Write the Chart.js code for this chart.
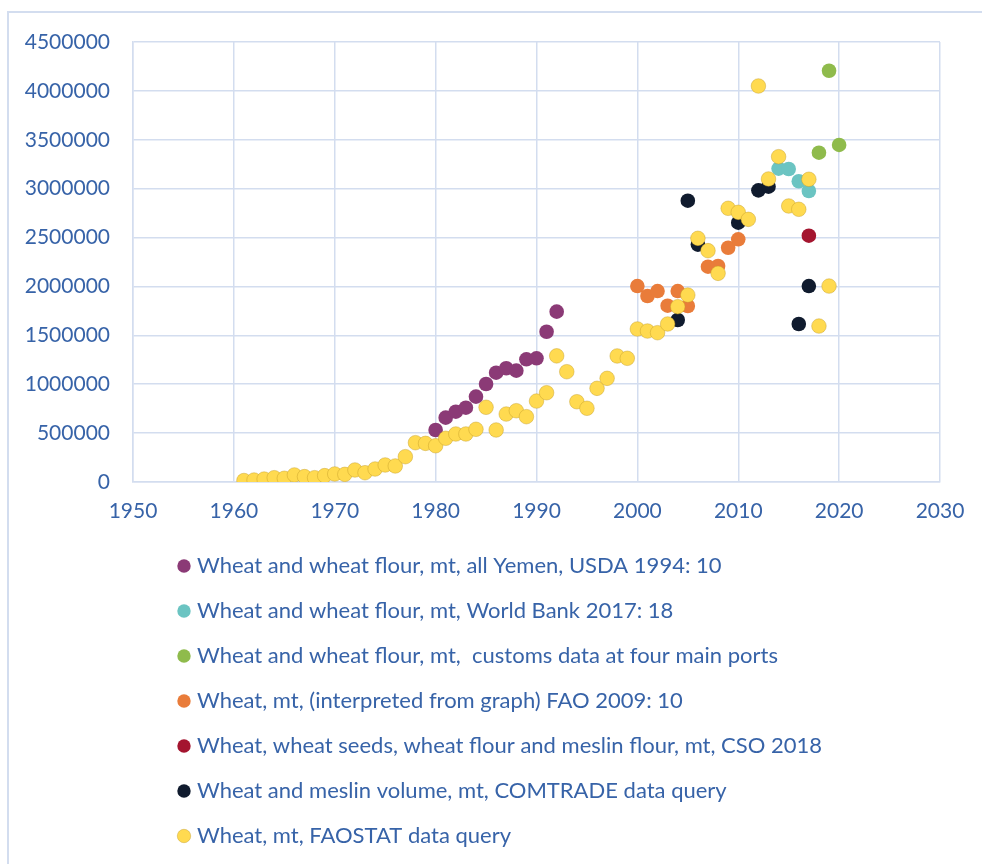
<!DOCTYPE html>
<html>
<head>
<meta charset="utf-8">
<script src="https://cdn.jsdelivr.net/npm/chart.js@4.4.1/dist/chart.umd.min.js"></script>
<style>
html,body{margin:0;padding:0;width:982px;height:864px;overflow:hidden;background:#ffffff;}
#frame{position:absolute;left:7px;top:11px;width:1400px;height:1400px;border-left:2px solid #D3DDEF;border-top:2px solid #D3DDEF;box-sizing:border-box;}
#wrap{position:absolute;left:0;top:0;width:982px;height:864px;}
</style>
</head>
<body>
<div id="frame"></div>
<div id="wrap"><canvas id="c" width="982" height="864"></canvas></div>
<script>
// ---------- data ----------
const purpleLabel = 'Wheat and wheat flour, mt, all Yemen, USDA 1994: 10';
const purpleYears = [1980,1981,1982,1983,1984,1985,1986,1987,1988,1989,1990,1991,1992];
const purpleValues = [532000,658000,719000,760000,873000,1002000,1118000,1163000,1139000,1255000,1265000,1537000,1742000];

const tealLabel = 'Wheat and wheat flour, mt, World Bank 2017: 18';
const tealYears = [2014,2015,2016,2017];
const tealValues = [3205000,3201000,3076000,2976000];

const greenLabel = 'Wheat and wheat flour, mt,  customs data at four main ports';
const greenYears = [2018,2019,2020];
const greenValues = [3368000,4206000,3447000];

const orangeLabel = 'Wheat, mt, (interpreted from graph) FAO 2009: 10';
const orangeYears = [2000,2001,2002,2003,2004,2005,2007,2008,2009,2010];
const orangeValues = [2004000,1902000,1953000,1803000,1953000,1800000,2202000,2209000,2396000,2482000];

const redLabel = 'Wheat, wheat seeds, wheat flour and meslin flour, mt, CSO 2018';
const redYears = [2017];
const redValues = [2519000];

const navyLabel = 'Wheat and meslin volume, mt, COMTRADE data query';
const navyYears = [2004,2005,2006,2010,2012,2013,2016,2017];
const navyValues = [1657000,2877000,2428000,2652000,2983000,3020000,1616000,2004000];

const yellowLabel = 'Wheat, mt, FAOSTAT data query';
const yellowYears = [1961,1962,1963,1964,1965,1966,1967,1968,1969,1970,
  1971,1972,1973,1974,1975,1976,1977,1978,1979,1980,
  1981,1982,1983,1984,1985,1986,1987,1988,1989,1990,
  1991,1992,1993,1994,1995,1996,1997,1998,1999,2000,
  2001,2002,2003,2004,2005,2006,2007,2008,2009,2010,
  2011,2012,2013,2014,2015,2016,2017,2018,2019];
const yellowValues = [15000,20000,30000,44000,38000,72000,55000,44000,65000,82000,
  78000,123000,95000,133000,174000,164000,259000,402000,395000,371000,
  447000,491000,491000,539000,764000,532000,695000,729000,668000,828000,
  913000,1290000,1128000,821000,754000,958000,1060000,1289000,1265000,1565000,
  1544000,1527000,1616000,1793000,1912000,2492000,2366000,2134000,2799000,2758000,
  2686000,4050000,3099000,3327000,2823000,2789000,3096000,1595000,2004000];

const xTickValues = [1950,1960,1970,1980,1990,2000,2010,2020,2030];
const yTickValues = [0,500000,1000000,1500000,2000000,2500000,3000000,3500000,4000000,4500000];

// ---------- styles ----------
const TEXT = '#3763A8';
const GRID = '#D3DDEF';
const FONT = 'Lato, "Liberation Sans", sans-serif';

function pts(xs, ys){ return xs.map((x,i)=>({x:x, y:ys[i]})); }
function ds(label, xs, ys, color, border, bw){
  return {
    label: label,
    data: pts(xs, ys),
    backgroundColor: color,
    borderColor: border || color,
    borderWidth: bw || 0,
    pointRadius: 7.3,
    pointHoverRadius: 7.3,
    pointStyle: 'circle'
  };
}

// index 0 drawn on top; legend reversed to show original order
const datasets = [
  ds(yellowLabel, yellowYears, yellowValues, '#FFDA50', 'rgba(196,156,40,0.55)', 0.8),
  ds(navyLabel, navyYears, navyValues, '#101B2E'),
  ds(redLabel, redYears, redValues, '#A4152F'),
  ds(orangeLabel, orangeYears, orangeValues, '#E97C3A'),
  ds(greenLabel, greenYears, greenValues, '#8FBB4C'),
  ds(tealLabel, tealYears, tealValues, '#6BC4C2'),
  ds(purpleLabel, purpleYears, purpleValues, '#8B3A76')
];

const LEGEND_SHIFT = 26;
const legendShift = {
  id: 'legendShift',
  afterLayout(chart){
    const lg = chart.legend;
    if (lg) { lg.left += LEGEND_SHIFT; lg.right += LEGEND_SHIFT; }
  }
};

new Chart(document.getElementById('c'), {
  type: 'scatter',
  data: { datasets: datasets },
  options: {
    responsive: false,
    animation: false,
    devicePixelRatio: 1,
    layout: { padding: { left: 0, right: 42, top: 42, bottom: 7 } },
    scales: {
      x: {
        type: 'linear',
        min: xTickValues[0],
        max: xTickValues[xTickValues.length-1],
        afterBuildTicks: s => { s.ticks = xTickValues.map(v => ({value: v})); },
        ticks: { callback: v => String(v), color: TEXT, font: { family: FONT, size: 21 }, padding: 17, maxRotation: 0, autoSkip: false },
        grid: { color: GRID, lineWidth: 1.5, drawTicks: false },
        border: { color: GRID, width: 1.5 },
        afterFit: s => { s.height = 50; }
      },
      y: {
        min: yTickValues[0],
        max: yTickValues[yTickValues.length-1],
        afterBuildTicks: s => { s.ticks = yTickValues.map(v => ({value: v})); },
        ticks: { callback: v => String(v), color: TEXT, font: { family: FONT, size: 21 }, padding: 23, autoSkip: false },
        grid: { color: GRID, lineWidth: 1.5, drawTicks: false },
        border: { color: GRID, width: 1.5 },
        afterFit: s => { s.width = 133; }
      }
    },
    plugins: {
      legend: {
        position: 'bottom',
        align: 'start',
        fullSize: false,
        reverse: true,
        labels: {
          usePointStyle: true,
          boxWidth: 4,
          boxHeight: 9.5,
          padding: 23,
          color: TEXT,
          font: { family: FONT, size: 22 }
        }
      },
      tooltip: { enabled: false }
    }
  },
  plugins: [legendShift]
});
</script>
</body>
</html>
